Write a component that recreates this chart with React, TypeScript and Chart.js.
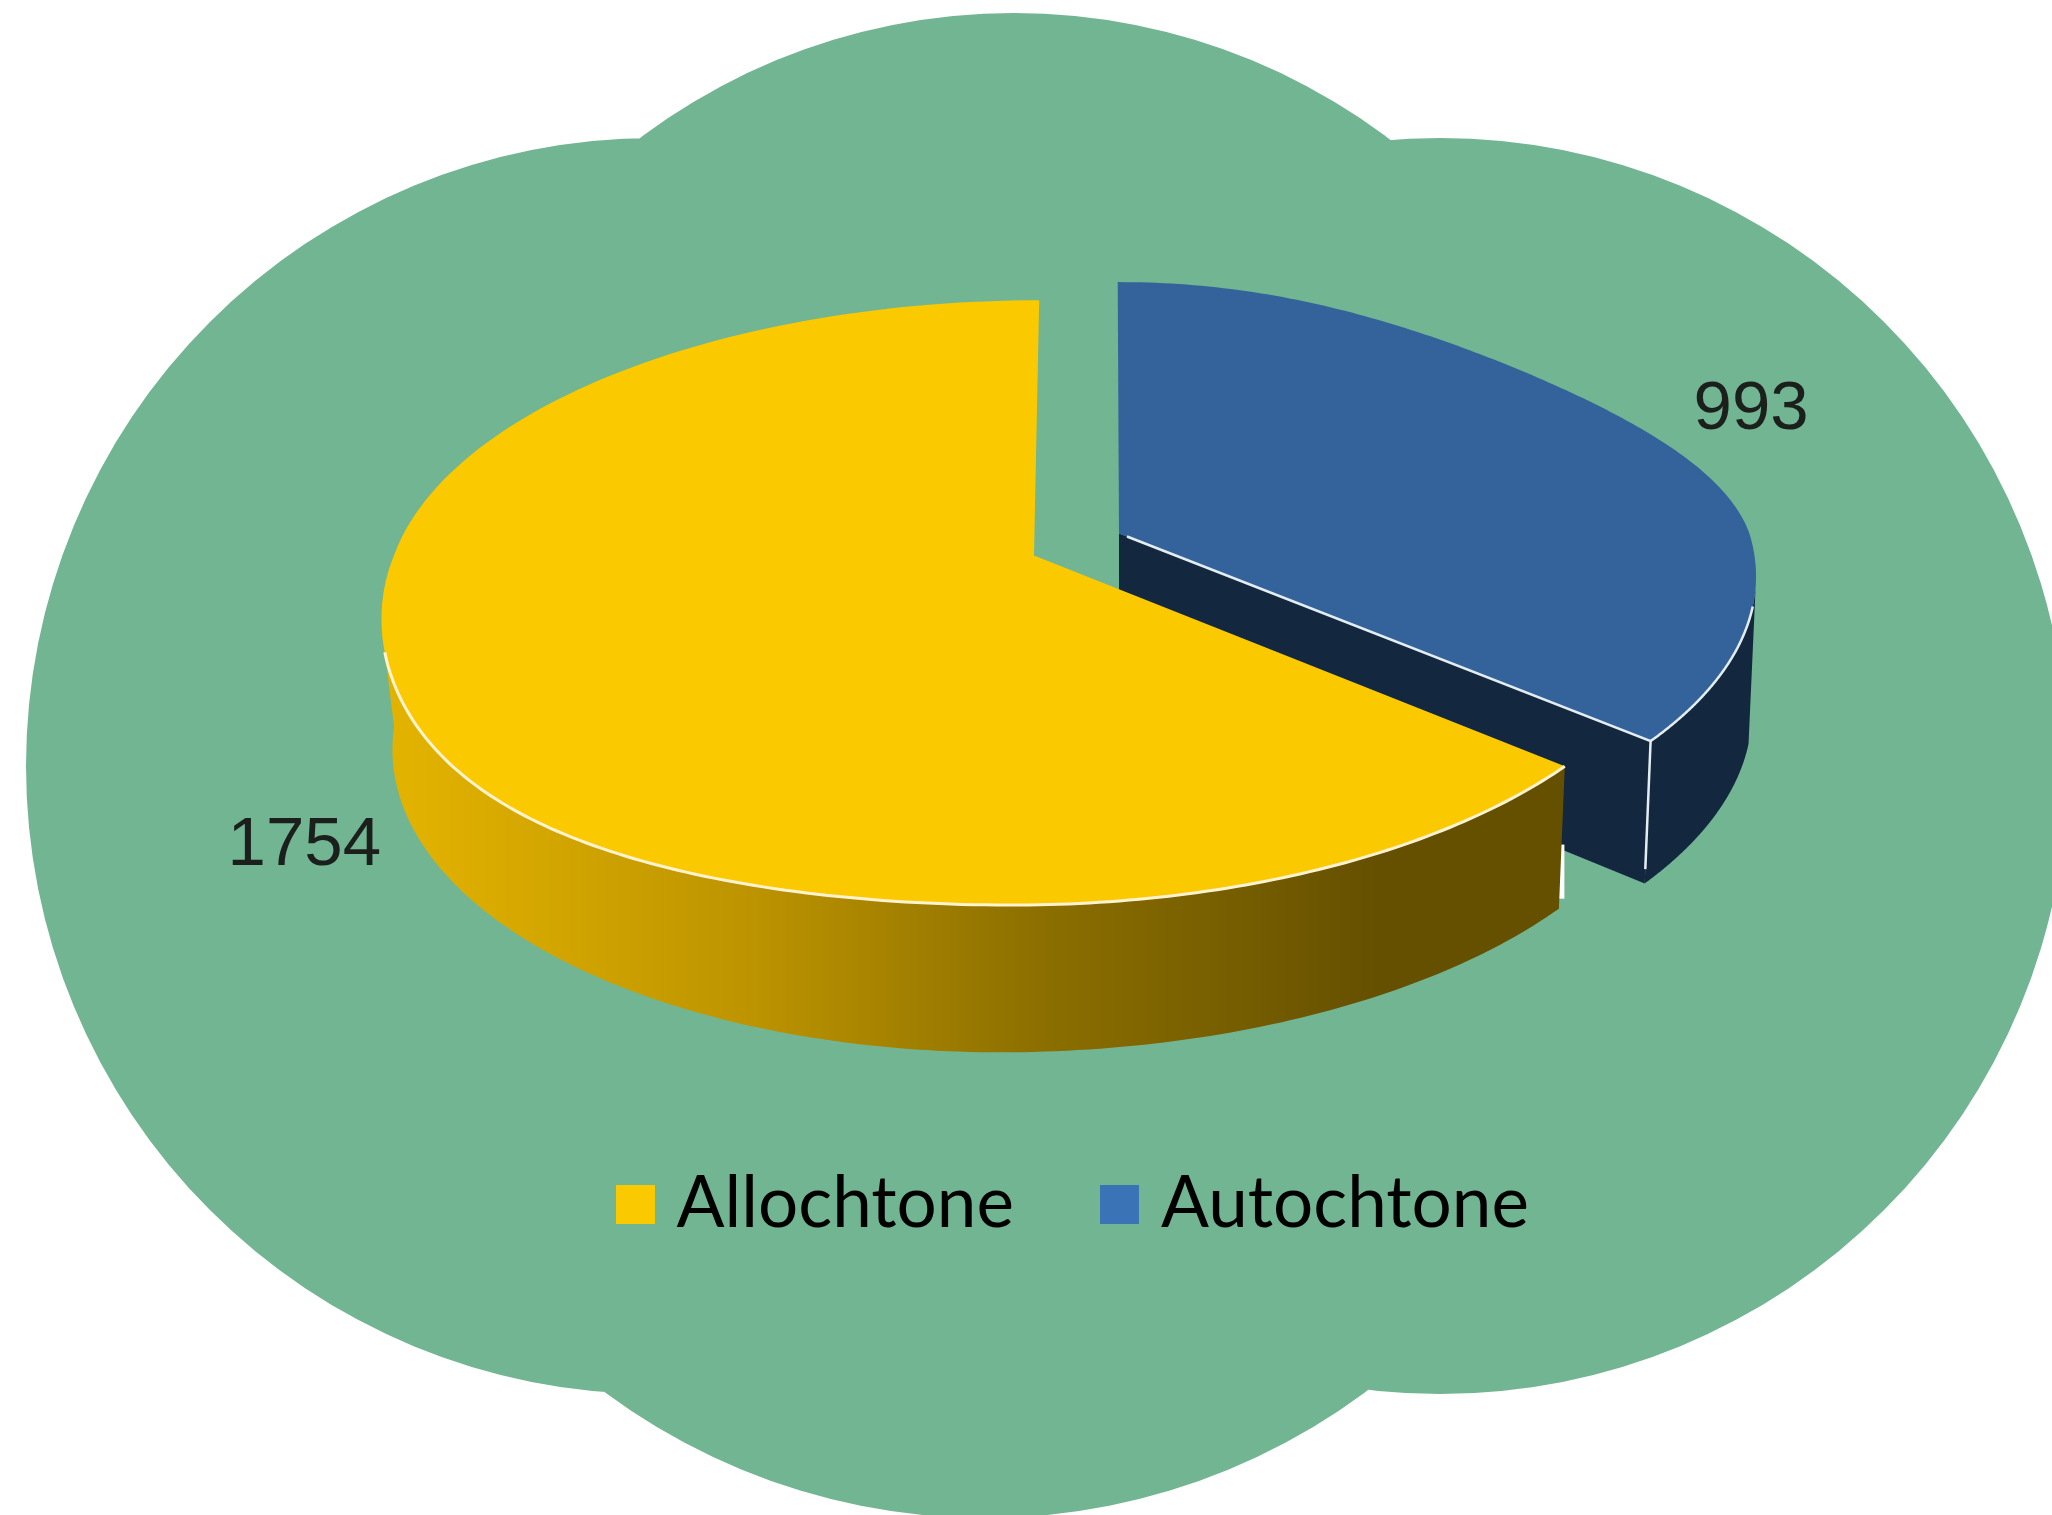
import React, { useEffect, useRef } from "react";
import { Chart, registerables } from "chart.js";

Chart.register(...registerables);

const categories = ["Allochtone", "Autochtone"];
const values = [1754, 993];
const topColors = ["#fbc900", "#33639a"];
const legendColors = ["#fbc900", "#3a74b6"];

const W = 2052;
const H = 1515;
const GREEN = "#72b592";
const TILT = 0.156; // perspective strength
const FLATTEN = 0.461; // vertical squash of the disc

// Per-slice look: explode shift from chart centre, size factor, shears, label shift
const LOOK = [
  { dx: -45, dy: 21, scale: 1, skew: 22, lean: 6.5, bulge: 110, shoulder: 0, inset: 0, lx: -92, ly: 157 },
  { dx: 40, dy: -1, scale: 0.985, skew: 8, lean: 0, bulge: 0, shoulder: 50, inset: 60, lx: 109, ly: -19 },
];
const WALL = { shrink: 0.966, stretch: 1.035, drop: 135, shift: -12, spread: 8 };

const CLOUD = [
  [654, 766, 628],
  [1440, 766, 628],
  [1014, 635, 622],
  [985, 881, 637],
];

type Look = (typeof LOOK)[number];

function point(el: any, look: Look, angle: number, rho: number, wall: boolean) {
  const R = el.outerRadius * look.scale;
  const u = rho * Math.cos(angle);
  const v = rho * Math.sin(angle);
  const w = 1 - TILT * v;
  let px = (R * u) / w - look.skew * Math.max(v, 0) + look.lean * Math.max(-v, 0);
  let py = (R * FLATTEN * v) / w;
  const cx = el.x + look.dx;
  const cy = el.y + look.dy;
  if (!wall) {
    if (v > 0 && u < 0) px -= look.bulge * v * v * v * -u;
    if (v < 0 && u > 0) {
      py += look.shoulder * Math.pow(-v, 1.5) * u * u;
      px -= look.inset * Math.pow(-v, 1.6) * u * u;
    }
    return [cx + px, cy + py];
  }
  const sx = u > 0 ? 1 : WALL.shrink;
  return [cx + WALL.shift + WALL.spread * Math.max(u, 0) + px * sx, cy + WALL.drop + py * WALL.stretch];
}

function arcPath(ctx: CanvasRenderingContext2D, el: any, look: Look, a0: number, a1: number, wall: boolean, move: boolean) {
  const n = 160;
  for (let i = 0; i <= n; i++) {
    const [x, y] = point(el, look, a0 + ((a1 - a0) * i) / n, 1, wall);
    if (i === 0 && move) ctx.moveTo(x, y);
    else ctx.lineTo(x, y);
  }
}

function slicePath(ctx: CanvasRenderingContext2D, el: any, look: Look) {
  ctx.beginPath();
  const [ax, ay] = point(el, look, el.startAngle, 0, false);
  ctx.moveTo(ax, ay);
  arcPath(ctx, el, look, el.startAngle, el.endAngle, false, false);
  ctx.closePath();
}

function drawBlue(ctx: CanvasRenderingContext2D, el: any, look: Look) {
  const s = el.startAngle; // top of the slice
  const e = el.endAngle; // front corner
  const dark = "#13273f";
  const [tx, ty] = point(el, look, e, 1, false);
  const [bx, by] = point(el, look, e, 1, true);
  const [ax, ay] = point(el, look, e, 0, false);
  const [, cy] = point(el, look, e, 0, true);
  // inner cut face
  ctx.fillStyle = dark;
  ctx.beginPath();
  ctx.moveTo(ax, ay);
  ctx.lineTo(tx, ty);
  ctx.lineTo(bx, by);
  ctx.lineTo(ax, cy);
  ctx.closePath();
  ctx.fill();
  // outer rim: straight silhouette from the widest point of the top to the lower edge
  ctx.beginPath();
  arcPath(ctx, el, look, s + (e - s) * 0.76, e, false, true);
  arcPath(ctx, el, look, e, s + (e - s) * 0.8, true, false);
  ctx.closePath();
  ctx.fill();
  // top
  slicePath(ctx, el, look);
  ctx.fillStyle = topColors[1];
  ctx.fill();
  // white seams
  ctx.strokeStyle = "#e4edf2";
  ctx.lineWidth = 2.5;
  ctx.beginPath();
  ctx.moveTo(ax + 8, ay + 3);
  ctx.lineTo(tx, ty);
  ctx.lineTo(bx + (tx - bx) * 0.1, by + (ty - by) * 0.1);
  ctx.stroke();
  ctx.beginPath();
  arcPath(ctx, el, look, s + (e - s) * 0.8, e, false, true);
  ctx.stroke();
}

function drawYellow(ctx: CanvasRenderingContext2D, el: any, look: Look) {
  const s = el.startAngle; // front right end
  const span = el.endAngle - s;
  const g = ctx.createLinearGradient(el.x - 670, 0, el.x + 300, 0);
  g.addColorStop(0, "#e2b200");
  g.addColorStop(0.35, "#bd9400");
  g.addColorStop(0.65, "#8c6f00");
  g.addColorStop(1, "#655000");
  // little white sliver at the right end of the wall
  const [, ty] = point(el, look, s, 1, false);
  const [bx, by] = point(el, look, s, 1, true);
  ctx.strokeStyle = "#ffffff";
  ctx.lineWidth = 7;
  ctx.beginPath();
  ctx.moveTo(bx + 2, ty + (by - ty) * 0.55);
  ctx.lineTo(bx + 2, by - 10);
  ctx.stroke();
  // wall
  ctx.beginPath();
  arcPath(ctx, el, look, s, s + span * 0.55, false, true);
  arcPath(ctx, el, look, s + span * 0.58, s, true, false);
  ctx.closePath();
  ctx.fillStyle = g;
  ctx.fill();
  // top
  slicePath(ctx, el, look);
  ctx.fillStyle = topColors[0];
  ctx.fill();
  // light rim
  ctx.strokeStyle = "#fff3d2";
  ctx.lineWidth = 3;
  ctx.beginPath();
  arcPath(ctx, el, look, s, s + span * 0.53, false, true);
  ctx.stroke();
}

const cloudPlugin = {
  id: "cloud",
  beforeDraw(chart: any) {
    const ctx = chart.ctx;
    ctx.save();
    ctx.fillStyle = "#ffffff";
    ctx.fillRect(0, 0, W, H);
    ctx.fillStyle = GREEN;
    ctx.beginPath();
    CLOUD.forEach(([x, y, r]) => {
      ctx.moveTo(x + r, y);
      ctx.arc(x, y, r, 0, Math.PI * 2);
    });
    ctx.fill("nonzero");
    ctx.restore();
  },
};

const pie3dPlugin = {
  id: "pie3d",
  beforeDatasetsDraw(chart: any) {
    const ctx = chart.ctx;
    const arcs = chart.getDatasetMeta(0).data;
    ctx.save();
    drawBlue(ctx, arcs[1], LOOK[1]);
    drawYellow(ctx, arcs[0], LOOK[0]);
    // value labels
    ctx.font = '69px "Liberation Sans"';
    ctx.fillStyle = "#1b201d";
    ctx.textAlign = "center";
    ctx.textBaseline = "middle";
    arcs.forEach((el: any, i: number) => {
      const look = LOOK[i];
      const [x, y] = point(el, look, (el.startAngle + el.endAngle) / 2, 1, false);
      ctx.fillText(String(values[i]), x + look.lx, y + look.ly);
    });
    ctx.restore();
    return false;
  },
};

// Legend swatch: drawn as an image so the native legend can keep the reference's
// tight gap between square and text.
function swatch(color: string) {
  const c = document.createElement("canvas");
  c.width = 39;
  c.height = 39;
  const g = c.getContext("2d") as CanvasRenderingContext2D;
  g.fillStyle = color;
  g.fillRect(0, 0, 39, 39);
  return c;
}

export default function App() {
  const ref = useRef<HTMLCanvasElement | null>(null);
  useEffect(() => {
    if (!ref.current) return;
    const chart = new Chart(ref.current, {
      type: "pie",
      data: {
        labels: categories,
        datasets: [{ data: values, backgroundColor: topColors, borderWidth: 0 }],
      },
      options: {
        responsive: false,
        animation: false,
        rotation: 130,
        radius: 640,
        layout: { padding: { left: 106, top: 0, right: 0, bottom: 265.5 } },
        plugins: {
          tooltip: { enabled: false },
          title: { display: false },
          legend: {
            position: "bottom",
            labels: {
              usePointStyle: true,
              pointStyleWidth: 12,
              boxHeight: 39,
              padding: 99.5,
              color: "#222b27",
              font: { family: "Lato", size: 71 },
              generateLabels: () =>
                categories.map((text, i) => ({
                  text,
                  fillStyle: legendColors[i],
                  strokeStyle: legendColors[i],
                  lineWidth: 0,
                  hidden: false,
                  index: i,
                  pointStyle: swatch(legendColors[i]),
                })),
            },
          },
        },
      } as any,
      plugins: [cloudPlugin, pie3dPlugin],
    });
    return () => chart.destroy();
  }, []);
  return (
    <div style={{ position: "absolute", left: 0, top: 0, width: W, height: H }}>
      <canvas ref={ref} width={W} height={H} style={{ display: "block", width: W, height: H }} />
    </div>
  );
}
